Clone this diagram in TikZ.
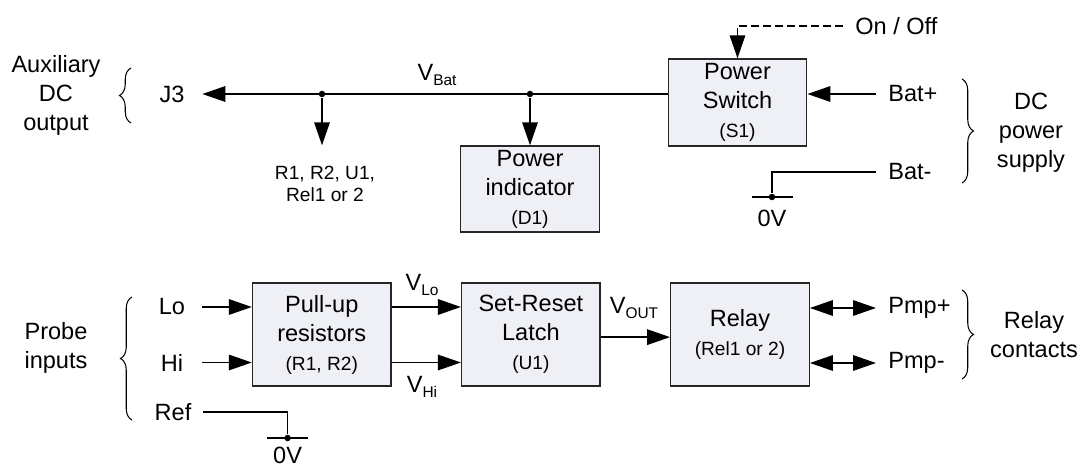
\documentclass[tikz,border=0pt]{standalone}
\usepackage{fontspec}
\setmainfont{Liberation Sans}
\usepackage{tikz}
\usetikzlibrary{arrows.meta,positioning,decorations.pathreplacing}
\definecolor{blkfill}{RGB}{238,240,245}
\newcommand{\vsub}[1]{V\raisebox{-0.35ex}{\fontsize{8.8}{10}\selectfont #1}}
\newcommand{\smalltxt}{\fontsize{10.9}{16.5}\selectfont}

\begin{document}
\begin{tikzpicture}[x=0.02cm, y=-0.02cm,
  every node/.style={font=\fontsize{13.4}{16.5}\selectfont},
  blk/.style={draw=black!85, line width=0.8pt, fill=blkfill, align=center,
              inner sep=0pt, minimum width=2.77cm, minimum height=2.06cm},
  lbl/.style={align=center, inner sep=0pt},
  side/.style={align=center, inner sep=0pt},
  llbl/.style={inner sep=0pt, minimum width=1.2cm},
  rlbl/.style={anchor=west, inner sep=0pt, inner xsep=2.4mm},
  dot/.style={circle, fill, inner sep=0pt, minimum size=1.3mm},
  wire/.style={line width=0.9pt},
  arr/.style={wire, -{Triangle[length=4.6mm, width=3.1mm]}},
  darr/.style={wire, {Triangle[length=4.6mm, width=3.1mm]}-{Triangle[length=4.6mm, width=3.1mm]}},
  ctl/.style={arr, dash pattern=on 1.6mm off 0.8mm},
  brc/.style={decorate, decoration={brace, amplitude=2.3mm}, line width=0.6pt},
  node distance=1.385cm
]
\useasboundingbox (0,0) rectangle (1086,466);

% supply side
\node[blk, minimum height=1.74cm] (sw) at (737.5,102.5) {Power\\Switch\\{\smalltxt (S1)}};
\node[blk, minimum height=1.72cm] (ind) at (530,189) {Power\\indicator\\{\smalltxt (D1)}};

\node[llbl] (j3) at (172,94) {J3};
\node[dot] (d1) at (322,94) {};
\node[dot] (d2) at (530,94) {};
\node[lbl, font=\fontsize{10.9}{12.2}\selectfont] (loads) at (325,184) {R1, R2, U1,\\Rel1 or 2};
\node[lbl] (vbat) at (437,75) {\vsub{Bat}};

\node[rlbl] (onoff) at (843,26) {On / Off};
\node[rlbl] (batp) at (876,94) {Bat+};
\node[rlbl] (batm) at (876,172) {Bat-};
\node[dot] (g1) at (772,197) {};
\node[lbl] (g1v) at (772,218) {0V};

\node[side] (aux) at (56,95) {Auxiliary\\DC\\output};
\node[side] (dcps) at (1031,133) {DC\\power\\supply};

\draw[arr] (sw.west |- j3) -- (j3.east);
\draw[arr] (d1) -- (d1 |- ind.north);
\draw[arr] (d2) -- (ind.north);
\draw[arr] (batp.west) -- (sw.east |- batp);
\draw[ctl] (onoff.west) -| (sw.north);
\draw[wire] (batm.west) -| (g1);
\draw[wire] ([xshift=-4.1mm]g1.center) -- ([xshift=4.1mm]g1.center);

\draw[brc] (131,123) -- (131,68);
\draw[brc] (962,79) -- (962,183);

% signal chain
\node[blk] (pull) at (321.75,334.5) {Pull-up\\resistors\\{\smalltxt (R1, R2)}};
\node[blk, right=of pull] (latch) {Set-Reset\\Latch\\{\smalltxt (U1)}};
\node[blk, right=of latch] (relay) {Relay\\{\smalltxt (Rel1 or 2)}};

\node[llbl] (lo) at (172,307) {Lo};
\node[llbl] (hi) at (172,362.5) {Hi};
\node[llbl] (ref) at (173,412) {Ref};
\node[dot] (g2) at (287.6,438) {};
\node[lbl] (g2v) at (287.6,455) {0V};
\node[side] (probe) at (56,348) {Probe\\inputs};

\node[lbl] (vlo) at (422,285) {\vsub{Lo}};
\node[lbl] (vhi) at (422,387) {\vsub{Hi}};
\node[lbl] (vout) at (634,308) {\vsub{OUT}};

\node[rlbl] (pmpp) at (876,308) {Pmp+};
\node[rlbl] (pmpm) at (876,363) {Pmp-};
\node[side] (cont) at (1034,335) {Relay\\contacts};

\draw[arr] (lo.east) -- (pull.west |- lo);
\draw[arr] (hi.east) -- (pull.west |- hi);
\draw[wire] (ref.east) -| (g2);
\draw[wire] ([xshift=-4.1mm]g2.center) -- ([xshift=4.1mm]g2.center);
\draw[arr] (pull.east |- lo) -- (latch.west |- lo);
\draw[arr] (pull.east |- hi) -- (latch.west |- hi);
\draw[arr] ([yshift=-1.5]latch.east) -- ([yshift=-1.5]relay.west);
\draw[darr] (relay.east |- pmpp) -- (pmpp.west);
\draw[darr] (relay.east |- pmpm) -- (pmpm.west);

\draw[brc] (132,420) -- (132,297);
\draw[brc] (962,290) -- (962,379);
\end{tikzpicture}
\end{document}
